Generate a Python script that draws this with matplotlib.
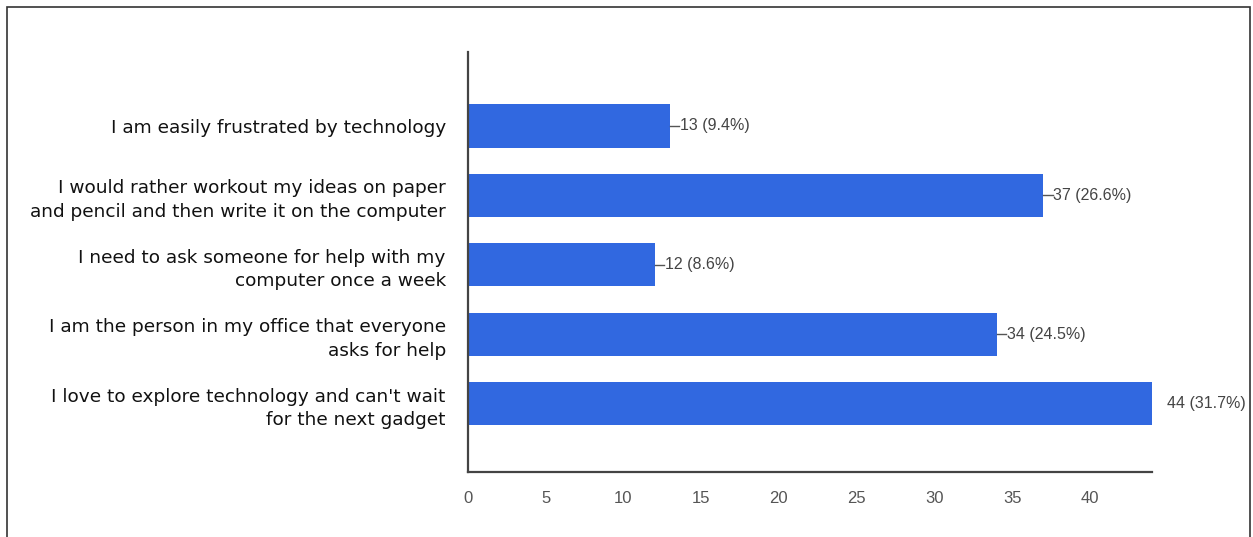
import matplotlib.pyplot as plt
from matplotlib.patches import Rectangle

categories = [
    "I am easily frustrated by technology",
    "I would rather workout my ideas on paper\nand pencil and then write it on the computer",
    "I need to ask someone for help with my\ncomputer once a week",
    "I am the person in my office that everyone\nasks for help",
    "I love to explore technology and can't wait\nfor the next gadget",
]
counts = [13, 37, 12, 34, 44]
percents = [9.4, 26.6, 8.6, 24.5, 31.7]
xticks = [0, 5, 10, 15, 20, 25, 30, 35, 40]

fig = plt.figure(figsize=(12.53, 5.37), dpi=100)
ax = fig.add_axes([468 / 1253, 1 - 472 / 537, (1152 - 468) / 1253, (472 - 52) / 537])

# outer frame like the screenshot border
fig.patches.append(Rectangle((7 / 1253, -0.01), 1243 / 1253, 1 - 7 / 537 + 0.01,
                             transform=fig.transFigure, fill=False,
                             edgecolor="#333333", linewidth=1.2))

ypos = list(range(len(categories)))
ax.barh(ypos, counts, height=0.62, color="#3168e0")

num_font = dict(fontsize=11.5, color="#444444", family="Liberation Sans")
for y, c, p in zip(ypos, counts, percents):
    label = f"{c} ({p}%)"
    if c == max(counts):
        ax.text(c + 0.95, y, label, va="center", ha="left", clip_on=False, **num_font)
    else:
        ax.plot([c, c + 0.6], [y, y], color="#555555", linewidth=1, clip_on=False)
        ax.text(c + 0.65, y, label, va="center", ha="left", clip_on=False, **num_font)

ax.set_xlim(0, 44)
ax.set_ylim(4.98, -1.065)
ax.set_yticks(ypos)
ax.set_yticklabels(categories, fontsize=13.3, color="#111111", linespacing=1.38)
ax.set_xticks(xticks)
ax.set_xticklabels([str(t) for t in xticks], fontsize=12, color="#555555",
                   family="Liberation Sans")
ax.tick_params(axis="both", length=0)
ax.tick_params(axis="y", pad=16)
ax.tick_params(axis="x", pad=14)

for side in ["top", "right"]:
    ax.spines[side].set_visible(False)
for side in ["left", "bottom"]:
    ax.spines[side].set_color("#444444")
    ax.spines[side].set_linewidth(1.6)

fig.savefig("out.png", dpi=100)
